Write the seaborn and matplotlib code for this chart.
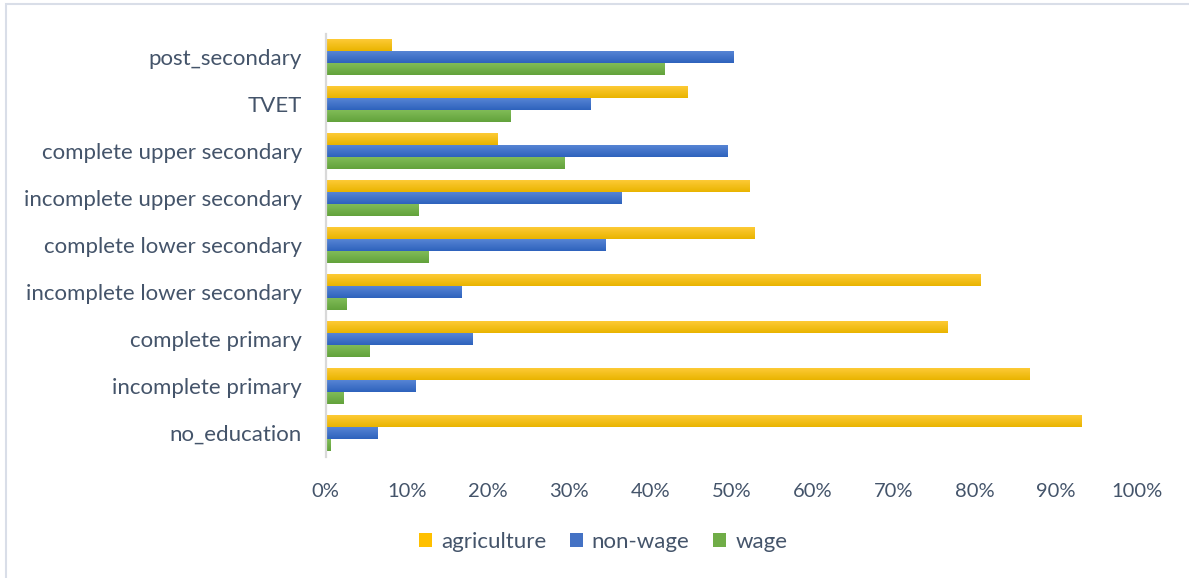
import numpy as np
import pandas as pd
import matplotlib
matplotlib.use("Agg")
import matplotlib.pyplot as plt
from matplotlib.colors import LinearSegmentedColormap
from matplotlib.patches import Rectangle
import seaborn as sns

# Share of employment by sector, for each education level (%)
education = [
    "post_secondary",
    "TVET",
    "complete upper secondary",
    "incomplete upper secondary",
    "complete lower secondary",
    "incomplete lower secondary",
    "complete primary",
    "incomplete primary",
    "no_education",
]
agriculture = [8.1, 44.5, 21.1, 52.2, 52.8, 80.7, 76.6, 86.7, 93.1]
non_wage = [50.2, 32.6, 49.5, 36.4, 34.4, 16.7, 18.1, 11.0, 6.3]
wage = [41.7, 22.7, 29.4, 11.4, 12.6, 2.5, 5.4, 2.1, 0.55]

sectors = ["agriculture", "non-wage", "wage"]
xticks = [0, 10, 20, 30, 40, 50, 60, 70, 80, 90, 100]

df = pd.DataFrame({
    "education": education * 3,
    "sector": [s for s in sectors for _ in education],
    "share": agriculture + non_wage + wage,
})

base = {"agriculture": "#FFC000", "non-wage": "#4472C4", "wage": "#70AD47"}
grad = {
    "agriculture": ("#FFCC3A", "#E9B400"),
    "non-wage": ("#5A88D6", "#2E62BD"),
    "wage": ("#83BE5A", "#62A23B"),
}
text_color = "#44546A"

sns.set_theme(style="white")
plt.rcParams["font.family"] = ["Lato", "DejaVu Sans"]

fig = plt.figure(figsize=(11.89, 5.78), dpi=100)
ax = fig.add_axes([325.5 / 1189, 1 - 456.5 / 578, (1137 - 325.5) / 1189, (456.5 - 33.5) / 578])

sns.barplot(data=df, y="education", x="share", hue="sector", hue_order=sectors,
            order=education, orient="h", palette=base, width=0.766, ax=ax,
            legend=False, saturation=1, edgecolor="none", linewidth=0)

# vertical gradient fill inside each bar
for container, s in zip(ax.containers, sectors):
    cmap = LinearSegmentedColormap.from_list(s, list(grad[s]))
    for bar in container:
        x0, y0 = bar.get_x(), bar.get_y()
        w, h = bar.get_width(), bar.get_height()
        im = ax.imshow(np.linspace(0, 1, 64).reshape(-1, 1), cmap=cmap, aspect="auto",
                       extent=(x0, x0 + w, y0 + h, y0), origin="upper", zorder=2,
                       interpolation="bilinear")
        im.set_clip_path(bar)
        bar.set_facecolor("none")

ax.set_xlim(0, 100)
ax.set_ylim(len(education) - 0.5, -0.5)
ax.set_xticks(xticks)
ax.set_xticklabels([f"{t}%" for t in xticks])
ax.set_xlabel("")
ax.set_ylabel("")
ax.tick_params(axis="x", length=0, pad=19, labelsize=14.5, labelcolor=text_color)
ax.tick_params(axis="y", length=0, pad=17, labelsize=16, labelcolor=text_color)
for side in ["top", "right", "bottom"]:
    ax.spines[side].set_visible(False)
ax.spines["left"].set_color("#D9D9D9")
ax.spines["left"].set_linewidth(1.6)
ax.grid(False)

handles = [Rectangle((0, 0), 1, 1, facecolor=base[s], edgecolor="none") for s in sectors]
fig.legend(handles, sectors, loc="center", bbox_to_anchor=(603 / 1189, 1 - 542 / 578),
           ncol=3, frameon=False, fontsize=16, labelcolor=text_color,
           handlelength=0.6, handleheight=0.6, handletextpad=0.4, columnspacing=1.05)

# chart area border
fig.patches.append(Rectangle((6 / 1189, -0.05), 1.1, 1 - 4 / 578 + 0.05,
                             transform=fig.transFigure, fill=False,
                             edgecolor="#D9DEE8", linewidth=1.5))

fig.savefig("out.png", dpi=100)
